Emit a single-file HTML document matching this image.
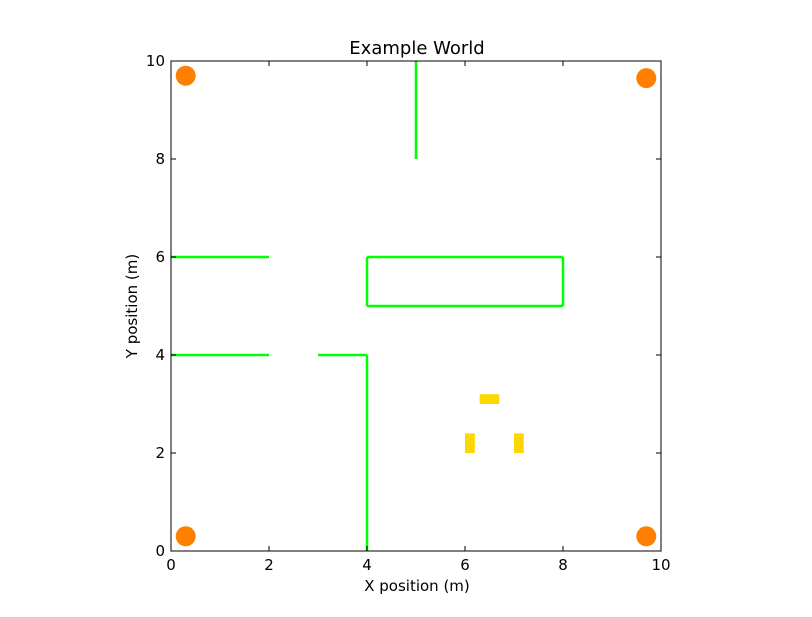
<!DOCTYPE html>
<html><head><meta charset="utf-8"><style>
body{margin:0;background:#fff}
svg text{font-family:"DejaVu Sans","Liberation Sans",sans-serif}
</style></head><body>
<svg id="chart" width="812" height="612" xmlns="http://www.w3.org/2000/svg"></svg>
<script>
// Wall segments: [x1,y1,x2,y2] in metres
const walls = [[5,10,5,8],[0,6,2,6],[0,4,2,4],[3,4,4,4],[4,4,4,0],[4,5,8,5],[8,5,8,6],[8,6,4,6],[4,6,4,5]];
// Obstacles: [x0,y0,x1,y1]
const obstacles = [[6.3,3.0,6.7,3.2],[6.0,2.0,6.2,2.4],[7.0,2.0,7.2,2.4]];
// Landmarks centers
const landmarkX = [0.3,9.7,0.3,9.7];
const landmarkY = [9.7,9.65,0.3,0.3];
const xTicks = [0,2,4,6,8,10];
const yTicks = [0,2,4,6,8,10];

const X0=171,X1=661,Y0=551,Y1=61;
const sx=v=>X0+(X1-X0)*v/10;
const sy=v=>Y0-(Y0-Y1)*v/10;
const svg=document.getElementById('chart');
const NS='http://www.w3.org/2000/svg';
function mk(t,a){const e=document.createElementNS(NS,t);for(const k in a)e.setAttribute(k,a[k]);svg.appendChild(e);return e;}

walls.forEach(w=>{
  const l=mk('line',{x1:sx(w[0]),y1:sy(w[1]),x2:sx(w[2]),y2:sy(w[3]),stroke:'#00ff00','stroke-width':2.5});
  
  
});
obstacles.forEach(o=>{
  const r=mk('rect',{x:sx(o[0]),y:sy(o[3]),width:sx(o[2])-sx(o[0]),height:sy(o[1])-sy(o[3]),fill:'#ffd700'});
  
  
});
landmarkX.forEach((x,i)=>{
  const c=mk('circle',{cx:sx(x),cy:sy(landmarkY[i]),r:10,fill:'#ff8000'});
  
  
});
const frame=mk('rect',{x:X0,y:Y1,width:X1-X0,height:Y0-Y1,fill:'none',stroke:'#000','stroke-width':1});


xTicks.forEach(v=>{
  const x=sx(v);
  mk('line',{x1:x,y1:Y0,x2:x,y2:Y0-5,stroke:'#000'});
  mk('line',{x1:x,y1:Y1,x2:x,y2:Y1+5,stroke:'#000'});
  const t=mk('text',{x:x,y:Y0+19,'text-anchor':'middle','font-size':15});
  t.textContent=v;
  
  
});
yTicks.forEach(v=>{
  const y=sy(v);
  mk('line',{x1:X0,y1:y,x2:X0+5,y2:y,stroke:'#000'});
  mk('line',{x1:X1,y1:y,x2:X1-5,y2:y,stroke:'#000'});
  const t=mk('text',{x:X0-6,y:y+5,'text-anchor':'end','font-size':15});
  t.textContent=v;
  
  
});
const title=mk('text',{x:417,y:54,'text-anchor':'middle','font-size':18});
title.textContent='Example World';


const xl=mk('text',{x:417,y:591,'text-anchor':'middle','font-size':15});
xl.textContent='X position (m)';


const yl=mk('text',{x:137,y:306,'text-anchor':'middle','font-size':15,transform:'rotate(-90 137 306)'});
yl.textContent='Y position (m)';


</script>
</body></html>
